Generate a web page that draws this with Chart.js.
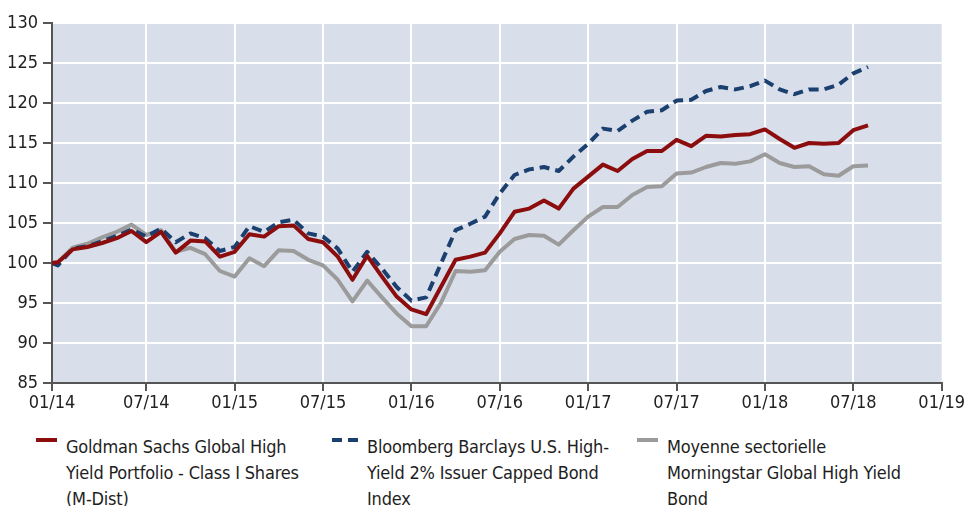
<!DOCTYPE html>
<html>
<head>
<meta charset="utf-8">
<script src="https://cdn.jsdelivr.net/npm/chart.js@4.4.1/dist/chart.umd.min.js"></script>
<style>
    body { margin: 0; background: #fff; font-family: "Liberation Sans Narrow", "DejaVu Sans Condensed", sans-serif; }
    #wrap { position: relative; width: 967px; height: 506px; overflow: hidden; }
    #chart { position: absolute; left: 0; top: 0; }
    .item { position: absolute; top: 434px; font-size: 18px; line-height: 26px; color: #1e1e1e; letter-spacing: -0.2px; }
    .item .sw { position: absolute; top: 4px; height: 4px; }
    .item .txt { position: absolute; top: 0; white-space: nowrap; }
</style>
</head>
<body>
<div id="wrap">
    <canvas id="chart" width="967" height="425"></canvas>

    <div class="item" style="left:36px">
        <span class="sw" style="left:0; width:21px; background:#8b0d0d"></span>
        <div class="txt" style="left:30px">Goldman Sachs Global High<br>Yield Portfolio - Class I Shares<br>(M-Dist)</div>
    </div>
    <div class="item" style="left:332px">
        <span class="sw" style="left:0; width:10px; background:#1b3f6e"></span>
        <span class="sw" style="left:16px; width:10px; background:#1b3f6e"></span>
        <div class="txt" style="left:35px">Bloomberg Barclays U.S. High-<br>Yield 2% Issuer Capped Bond<br>Index</div>
    </div>
    <div class="item" style="left:637px">
        <span class="sw" style="left:0; width:21px; background:#9b9b9b"></span>
        <div class="txt" style="left:30px">Moyenne sectorielle<br>Morningstar Global High Yield<br>Bond</div>
    </div>
</div>

<script>
// months since 01/14 (first value is the starting point just left of month 0)
const xMonths = [-0.4, 0, 1, 2, 3, 4, 5, 6, 7, 8, 9, 10, 11, 12, 13, 14, 15, 16, 17, 18, 19,
    20, 21, 22, 23, 24, 25, 26, 27, 28, 29, 30, 31, 32, 33, 34, 35, 36, 37, 38, 39,
    40, 41, 42, 43, 44, 45, 46, 47, 48, 49, 50, 51, 52, 53, 54, 55];

const goldman = [100.0, 100.1, 101.7, 102.0, 102.5, 103.1, 104.0, 102.6, 103.9, 101.3, 102.8,
    102.7, 100.8, 101.4, 103.6, 103.3, 104.6, 104.7, 103.0, 102.6, 100.8, 97.9, 100.9, 98.3,
    95.8, 94.2, 93.6, 97.0, 100.4, 100.8, 101.3, 103.7, 106.4, 106.8, 107.8, 106.8, 109.3,
    110.8, 112.3, 111.5, 113.0, 114.0, 114.0, 115.4, 114.6, 115.9, 115.8, 116.0, 116.1,
    116.7, 115.5, 114.4, 115.0, 114.9, 115.0, 116.6, 117.2];

const bloomberg = [100.0, 99.7, 101.8, 102.1, 102.7, 103.4, 104.2, 103.3, 104.3, 102.6, 103.7,
    103.1, 101.5, 102.0, 104.6, 103.9, 105.1, 105.4, 103.7, 103.3, 101.8, 98.9, 101.4, 99.3,
    97.0, 95.3, 95.7, 99.9, 104.1, 104.9, 105.8, 108.7, 111.0, 111.7, 112.0, 111.5, 113.3,
    114.9, 116.8, 116.5, 117.8, 118.9, 119.1, 120.3, 120.4, 121.5, 122.0, 121.7, 122.1,
    122.8, 121.7, 121.1, 121.7, 121.7, 122.3, 123.7, 124.5];

const morningstar = [100.0, 100.1, 101.9, 102.4, 103.2, 103.9, 104.8, 103.5, 104.1, 101.4, 101.9,
    101.1, 99.0, 98.3, 100.6, 99.6, 101.6, 101.5, 100.4, 99.7, 97.9, 95.2, 97.8, 95.7,
    93.7, 92.1, 92.1, 95.0, 99.0, 98.9, 99.1, 101.4, 103.0, 103.5, 103.4, 102.3, 104.1,
    105.8, 107.0, 107.0, 108.5, 109.5, 109.6, 111.2, 111.3, 112.0, 112.5, 112.4, 112.7,
    113.6, 112.5, 112.0, 112.1, 111.1, 110.9, 112.1, 112.2];

const tickMonths = [-0.4, 6, 12, 18, 24, 30, 36, 42, 48, 54, 60];
const tickLabels = ['01/14', '07/14', '01/15', '07/15', '01/16', '07/16', '01/17', '07/17', '01/18', '07/18', '01/19'];

const toPoints = vals => vals.map((v, i) => ({ x: xMonths[i], y: v }));

const tickFont = { family: '"Liberation Sans Narrow", "DejaVu Sans Condensed", sans-serif', size: 18 };

// light blue-grey fill behind the plot
const plotBg = {
    id: 'plotBg',
    beforeDraw(chart) {
        const { ctx, chartArea: a } = chart;
        ctx.save();
        ctx.fillStyle = '#d9dfea';
        ctx.fillRect(a.left, a.top, a.right - a.left, a.bottom - a.top);
        ctx.restore();
    }
};

new Chart(document.getElementById('chart'), {
    type: 'line',
    data: {
        datasets: [
            { label: 'Goldman Sachs', data: toPoints(goldman), borderColor: '#8b0d0d', borderWidth: 4 },
            { label: 'Bloomberg Barclays', data: toPoints(bloomberg), borderColor: '#1b3f6e', borderWidth: 4, borderDash: [10, 6] },
            { label: 'Morningstar', data: toPoints(morningstar), borderColor: '#9b9b9b', borderWidth: 4 }
        ]
    },
    options: {
        responsive: false,
        animation: false,
        devicePixelRatio: 1,
        layout: { padding: { left: 0, top: 23, right: 22, bottom: 0 } },
        elements: {
            point: { radius: 0 },
            line: { tension: 0, fill: false, borderJoinStyle: 'round' }
        },
        plugins: { legend: { display: false }, tooltip: { enabled: false } },
        scales: {
            x: {
                type: 'linear',
                min: -0.4,
                max: 60,
                afterBuildTicks: s => { s.ticks = tickMonths.map(v => ({ value: v })); },
                afterFit: s => { s.height = 42; },
                ticks: {
                    callback: (v, i) => tickLabels[i],
                    autoSkip: false,
                    maxRotation: 0,
                    padding: 2,
                    color: '#222',
                    font: tickFont
                },
                grid: {
                    color: c => (c.index === 0 || c.index === tickMonths.length - 1) ? 'rgba(0,0,0,0)' : '#ffffff',
                    lineWidth: 2,
                    tickLength: 8,
                    tickColor: '#555',
                    tickWidth: 2
                },
                border: { color: '#555', width: 2 }
            },
            y: {
                min: 85,
                max: 130,
                afterFit: s => { s.width = 52; },
                ticks: { stepSize: 5, padding: 5, color: '#222', font: tickFont },
                grid: {
                    color: '#ffffff',
                    lineWidth: 2,
                    tickLength: 9,
                    tickColor: '#555',
                    tickWidth: 2
                },
                border: { color: '#555', width: 2 }
            }
        }
    },
    plugins: [plotBg]
});
</script>
</body>
</html>
